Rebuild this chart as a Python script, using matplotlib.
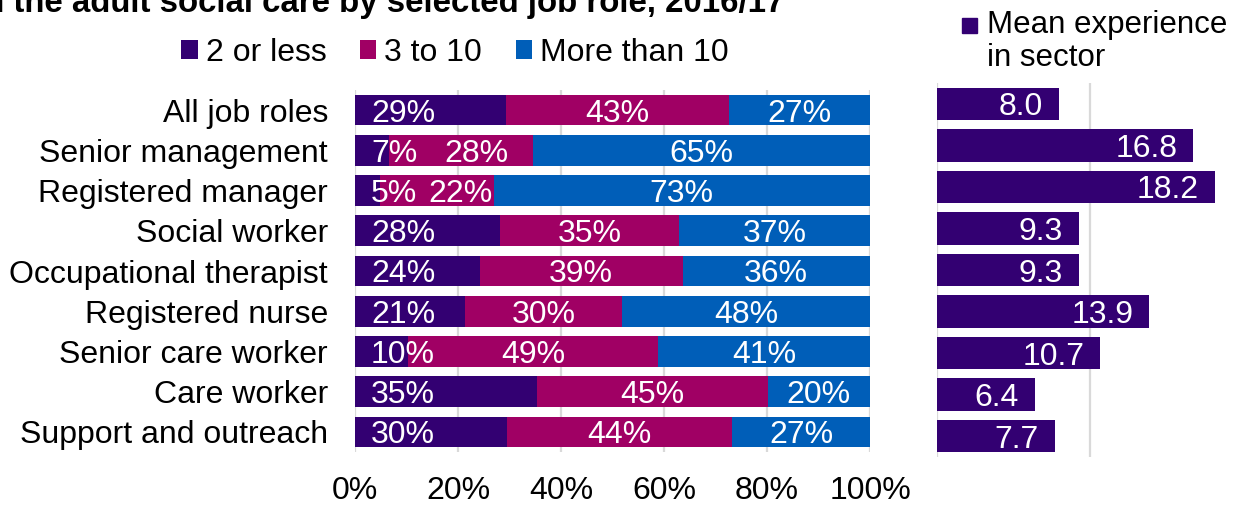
import matplotlib
matplotlib.use("Agg")
import matplotlib.pyplot as plt
from matplotlib.patches import Rectangle
import numpy as np

plt.rcParams['font.family'] = ['Liberation Sans', 'DejaVu Sans']

categories = ["All job roles", "Senior management", "Registered manager", "Social worker",
              "Occupational therapist", "Registered nurse", "Senior care worker",
              "Care worker", "Support and outreach"]
two_or_less = [29.4, 6.6, 4.9, 28.1, 24.2, 21.4, 10.3, 35.4, 29.6]
three_to_ten = [43.2, 28.0, 22.0, 34.8, 39.4, 30.4, 48.6, 44.7, 43.6]
more_than_ten = [27.4, 65.4, 73.1, 37.1, 36.4, 48.2, 41.1, 19.9, 26.8]
mean_experience = [8.0, 16.8, 18.2, 9.3, 9.3, 13.9, 10.7, 6.4, 7.7]
series_names = ["2 or less", "3 to 10", "More than 10"]
x_ticks = [0, 20, 40, 60, 80, 100]
x_ticklabels = ["0%", "20%", "40%", "60%", "80%", "100%"]
title = "in the adult social care by selected job role, 2016/17"

C_PURPLE = "#330072"
C_MAGENTA = "#A00064"
C_BLUE = "#005EB8"
GRID = "#D9D9D9"
FS = 23

fig = plt.figure(figsize=(12.39, 5.07), dpi=100)

# ---------------- left stacked bars ----------------
ax = fig.add_axes([355/1239, 1-452/507, 515/1239, 362/507])
y = np.arange(len(categories))
a = np.array(two_or_less); b = np.array(three_to_ten); c = np.array(more_than_ten)
h = 0.76
ax.barh(y, a, height=h, color=C_PURPLE, label=series_names[0], zorder=2)
ax.barh(y, b, left=a, height=h, color=C_MAGENTA, label=series_names[1], zorder=2)
ax.barh(y, c, left=a+b, height=h, color=C_BLUE, label=series_names[2], zorder=2)
ax.set_xlim(0, 100)
ax.set_ylim(len(categories)-0.5, -0.5)
ax.set_xticks(x_ticks)
ax.set_xticklabels(x_ticklabels, fontsize=FS)
ax.set_yticks(y)
ax.set_yticklabels(categories, fontsize=FS)
ax.tick_params(axis='both', length=0)
ax.tick_params(axis='x', pad=17)
ax.tick_params(axis='y', pad=19.5)
for s in ax.spines.values():
    s.set_visible(False)
ax.xaxis.grid(True, color=GRID, linewidth=1.6, zorder=0)
ax.set_axisbelow(True)

mid_shift = {1: 3.0, 2: 4.6}
for i in range(len(categories)):
    ax.text(3.1, i, f"{round(a[i])}%", color="white", fontsize=FS, ha="left",
            va="center_baseline", zorder=3)
    mx = a[i] + b[i]/2 + mid_shift.get(i, 0)
    ax.text(mx, i, f"{round(b[i])}%", color="white", fontsize=FS, ha="center",
            va="center_baseline", zorder=3)
    ax.text(a[i] + b[i] + c[i]/2, i, f"{round(c[i])}%", color="white", fontsize=FS,
            ha="center", va="center_baseline", zorder=3)

leg = fig.legend(loc="center", bbox_to_anchor=(455/1239, 1-53/507), ncol=3, frameon=False,
                 fontsize=FS, handlelength=0.52, handleheight=0.52, handletextpad=0.25,
                 columnspacing=1.05, borderpad=0, borderaxespad=0)

# ---------------- right bars ----------------
ax2 = fig.add_axes([937/1239, 1-457/507, 293/1239, 374/507])
ax2.barh(y, mean_experience, height=0.78, color=C_PURPLE, zorder=2)
ax2.set_xlim(0, 293/15.26)
ax2.set_ylim(len(categories)-0.5, -0.5)
ax2.set_xticks([0, 10])
ax2.set_xticklabels([])
ax2.set_yticks([])
ax2.tick_params(axis='both', length=0)
for s in ax2.spines.values():
    s.set_visible(False)
ax2.xaxis.grid(True, color=GRID, linewidth=1.6, zorder=0)
ax2.set_axisbelow(True)
for i, v in enumerate(mean_experience):
    ax2.annotate(f"{v:.1f}", xy=(v, i), xytext=(-11.5, 0), textcoords="offset points",
                 color="white", fontsize=FS, ha="right", va="center_baseline", zorder=3)

fig.patches.append(Rectangle((962/1239, 1-33/507), 15/1239, 15/507, transform=fig.transFigure,
                             color=C_PURPLE, figure=fig))
fig.text(987/1239, 1-25/507, "Mean experience", fontsize=22.5, ha="left", va="center")
fig.text(987/1239, 1-58/507, "in sector", fontsize=22.5, ha="left", va="center")

fig.text(-25/1239, 1-12/507, title, fontsize=23.8, fontweight="bold", ha="left", va="baseline")

fig.savefig("out.png", dpi=100)
